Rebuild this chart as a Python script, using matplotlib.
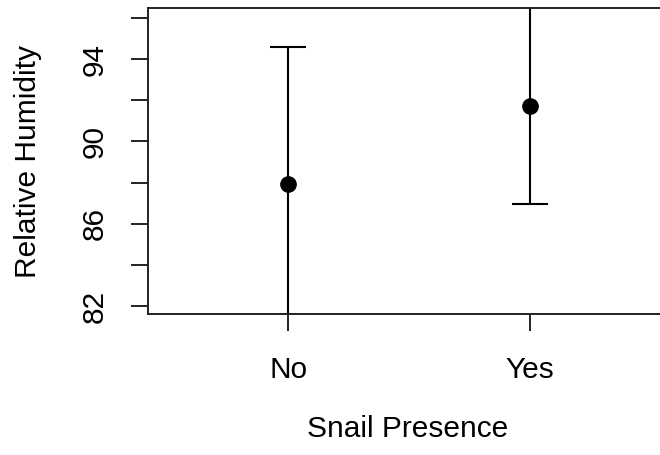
import matplotlib
matplotlib.use("Agg")
import matplotlib.pyplot as plt

categories = ["No", "Yes"]
means = [87.93, 91.72]
lower = [81.3, 86.96]
upper = [94.58, 96.8]
yticks = [82, 84, 86, 88, 90, 92, 94, 96]
ytick_labels = ["82", "", "86", "", "90", "", "94", ""]

plt.rcParams['font.family'] = ['Liberation Sans', 'DejaVu Sans']
fig = plt.figure(figsize=(6.6, 4.55), dpi=100)
W, H = 660, 455
left_px, right_px, top_px, bot_px = 148, 668, 8, 314
ax = fig.add_axes([left_px / W, 1 - bot_px / H, (right_px - left_px) / W, (bot_px - top_px) / H])

x = [1, 2]
yerr = [[m - l for m, l in zip(means, lower)], [u - m for m, u in zip(means, upper)]]
ax.errorbar(x, means, yerr=yerr, fmt='o', color='black', ms=11, elinewidth=1.5,
            capsize=13, capthick=1.5, clip_on=True)

ax.set_xlim(0.421, 2.570)
ax.set_ylim(81.61, 96.48)
ax.set_xticks(x)
ax.set_xticklabels(categories)
ax.set_yticks(yticks)
ax.set_yticklabels(ytick_labels, rotation=90, va='center')

for s in ax.spines.values():
    s.set_linewidth(1.4)
    s.set_color('#222222')
ax.tick_params(axis='both', length=12.5, width=1.4, labelsize=21.5, color='#222222')
ax.tick_params(axis='x', pad=18)
ax.tick_params(axis='y', pad=15.5)

ax.set_xlabel("Snail Presence", fontsize=21.5, labelpad=22)
ax.set_ylabel("Relative Humidity", fontsize=21.5, labelpad=28)

fig.savefig("out.png", dpi=100)
